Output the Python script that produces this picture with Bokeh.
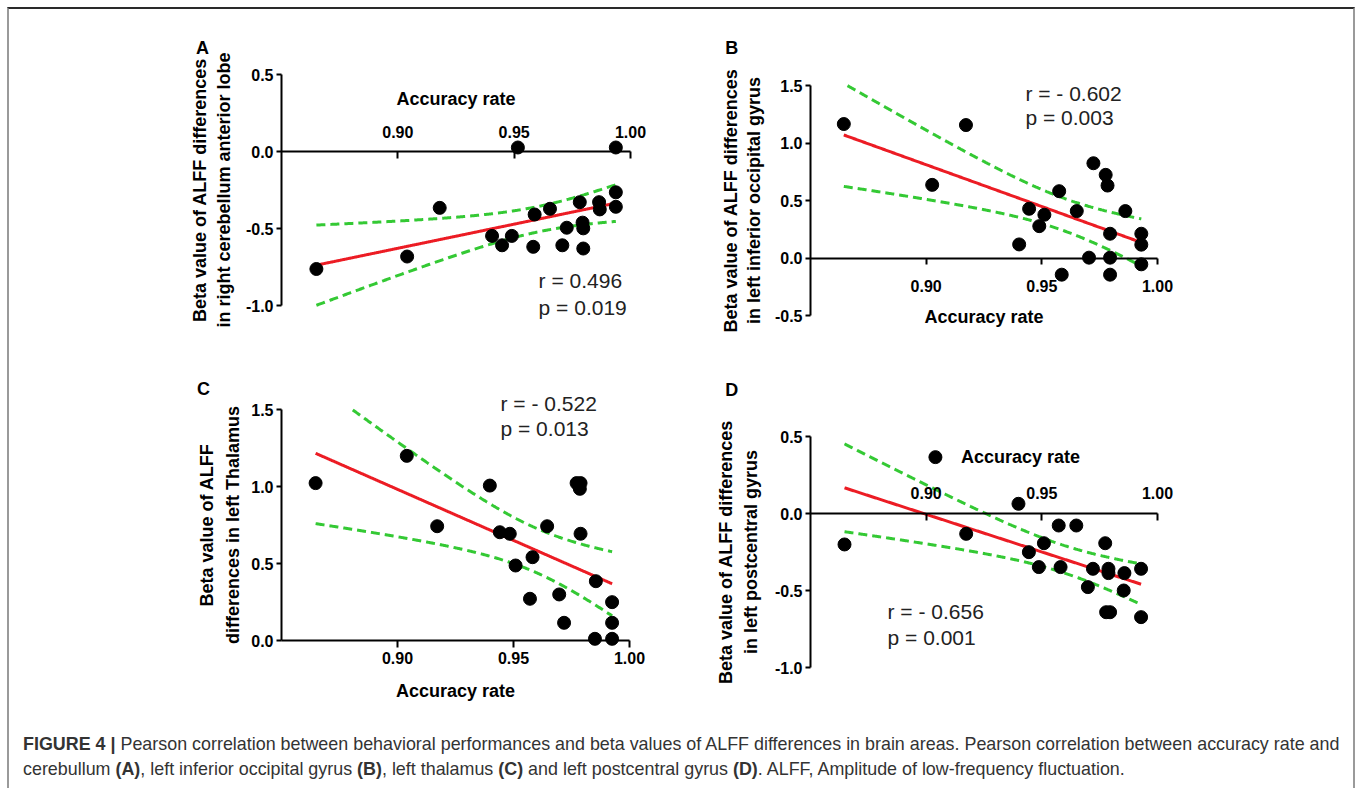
import numpy as np
from bokeh.embed import file_html
from bokeh.layouts import column, row
from bokeh.models import Div, FixedTicker, Label, LinearAxis, NumeralTickFormatter, Range1d
from bokeh.plotting import figure
from bokeh.resources import INLINE

FONT = "Liberation Sans"
T_CRIT = 2.093  # two-sided 95 % Student t, df = 19

# ---- accuracy rate (x) and beta value of ALFF difference (y), one entry per subject ----
acc_a = [0.865, 0.904, 0.918, 0.9405, 0.9448, 0.949, 0.9516, 0.9588, 0.9582, 0.9654, 0.9707,
         0.9726, 0.9782, 0.9794, 0.9797, 0.9797, 0.9865, 0.9868, 0.9937, 0.9937, 0.9937]
beta_a = [-0.763, -0.682, -0.366, -0.548, -0.609, -0.548, 0.026, -0.409, -0.619, -0.372, -0.609,
          -0.495, -0.329, -0.462, -0.499, -0.630, -0.329, -0.376, 0.026, -0.265, -0.359]

acc_b = [0.8644, 0.9026, 0.9172, 0.9402, 0.9445, 0.9489, 0.9511, 0.9575, 0.9586, 0.9651, 0.9704,
         0.9723, 0.9776, 0.9784, 0.9795, 0.9795, 0.9795, 0.9861, 0.9930, 0.9930, 0.9930]
beta_b = [1.165, 0.636, 1.156, 0.118, 0.428, 0.277, 0.376, 0.581, -0.145, 0.408, 0.003,
          0.824, 0.723, 0.630, 0.211, 0.003, -0.145, 0.408, 0.211, 0.116, -0.055]

acc_c = [0.8647, 0.9040, 0.9171, 0.9398, 0.9441, 0.9484, 0.9509, 0.9582, 0.9571, 0.9645, 0.9697,
         0.9718, 0.9772, 0.9789, 0.9786, 0.9789, 0.9855, 0.9851, 0.9925, 0.9925, 0.9925]
beta_c = [1.022, 1.199, 0.742, 1.006, 0.703, 0.693, 0.487, 0.541, 0.271, 0.742, 0.299,
          0.115, 1.022, 1.022, 0.985, 0.693, 0.385, 0.011, 0.249, 0.115, 0.011]

acc_d = [0.8647, 0.904, 0.9173, 0.9399, 0.9444, 0.9487, 0.9509, 0.9573, 0.9581, 0.9649, 0.9699,
         0.9721, 0.9774, 0.9788, 0.9788, 0.9778, 0.9795, 0.9857, 0.9854, 0.9929, 0.9929]
beta_d = [-0.201, 0.366, -0.132, 0.063, -0.251, -0.348, -0.193, -0.078, -0.348, -0.078, -0.478,
          -0.359, -0.193, -0.359, -0.387, -0.641, -0.641, -0.387, -0.5, -0.359, -0.673]

# ---- axis ticks and texts ----
x_ticks = [0.90, 0.95, 1.00]
x_extent = (0.85, 1.00)
y_ticks_a = [-1.0, -0.5, 0.0, 0.5]
y_ticks_b = [-0.5, 0.0, 0.5, 1.0, 1.5]
y_ticks_c = [0.0, 0.5, 1.0, 1.5]
y_ticks_d = [-1.0, -0.5, 0.0, 0.5]

x_title = "Accuracy rate"
y_title_a = "Beta value of ALFF differences\nin right cerebellum anterior lobe"
y_title_b = "Beta value of ALFF differences\nin left inferior occipital gyrus"
y_title_c = "Beta value of ALFF\ndifferences in left Thalamus"
y_title_d = "Beta value of ALFF differences\nin left postcentral gyrus"

stats_a = ["r = 0.496", "p = 0.019"]
stats_b = ["r = - 0.602", "p = 0.003"]
stats_c = ["r = - 0.522", "p = 0.013"]
stats_d = ["r = - 0.656", "p = 0.001"]

RED = "#ec1c24"
GREEN = "#34c934"


def regression_band(acc, beta, y_lo, y_hi, n_pts=400):
    """Least-squares line with its 95 % confidence band over the observed x span,
    cut where it leaves the y axis extent."""
    x = np.asarray(acc, dtype=float)
    y = np.asarray(beta, dtype=float)
    n = x.size
    slope, intercept = np.polyfit(x, y, 1)
    xs = np.linspace(x.min(), x.max(), n_pts)
    fit = intercept + slope * xs
    resid = y - (intercept + slope * x)
    s = np.sqrt(np.sum(resid ** 2) / (n - 2))
    sxx = np.sum((x - x.mean()) ** 2)
    half = T_CRIT * s * np.sqrt(1.0 / n + (xs - x.mean()) ** 2 / sxx)

    def inside(v):
        return np.where((v >= y_lo) & (v <= y_hi), v, np.nan)

    return xs, inside(fit), inside(fit + half), inside(fit - half)


def style_axis(ax, tick_out, tick_in, label_standoff, title_standoff, line_height=1.25):
    ax.axis_line_color = "black"
    ax.axis_line_width = 2
    ax.major_tick_line_color = "black"
    ax.major_tick_line_width = 2
    ax.major_tick_out = tick_out
    ax.major_tick_in = tick_in
    ax.minor_tick_line_color = None
    ax.major_label_text_font = FONT
    ax.major_label_text_font_style = "bold"
    ax.major_label_text_font_size = "16px"
    ax.major_label_text_color = "black"
    ax.major_label_standoff = label_standoff
    ax.axis_label_text_font = FONT
    ax.axis_label_text_font_style = "bold"
    ax.axis_label_text_font_size = "18px"
    ax.axis_label_text_color = "black"
    ax.axis_label_text_line_height = line_height
    ax.axis_label_standoff = title_standoff


def panel(acc, beta, y_ticks, y_title, stats, letter, geom, xax, yax, stat_xy, letter_xy,
          show_x_title=True):
    # the plotting frame fills the whole figure; the ranges are chosen so that the
    # axis extents land on the requested pixel columns / rows
    w, h = geom["size"]
    x0, x1 = geom["x_px"]          # pixel columns of x = 0.85 and x = 1.00
    yt, yb = geom["y_px"]          # pixel rows of the top and bottom y ticks
    y_lo, y_hi = y_ticks[0], y_ticks[-1]
    xpp = (x_extent[1] - x_extent[0]) / (x1 - x0)
    ypp = (y_hi - y_lo) / (yb - yt)

    p = figure(width=w, height=h, title=None,
               x_range=Range1d(x_extent[0] - x0 * xpp, x_extent[1] + (w - x1) * xpp),
               y_range=Range1d(y_lo - (h - yb) * ypp, y_hi + yt * ypp),
               x_axis_type=None, y_axis_type=None,
               output_backend="svg", toolbar_location=None, min_border=0,
               outline_line_color=None,
               background_fill_color="white", border_fill_color="white")

    xaxis = LinearAxis(fixed_location=0.0, bounds=x_extent,
                       ticker=FixedTicker(ticks=x_ticks, minor_ticks=[]),
                       formatter=NumeralTickFormatter(format="0.00"),
                       axis_label=x_title if show_x_title else None)
    style_axis(xaxis, *xax["ticks"], xax["label_standoff"], xax["title_standoff"])
    p.add_layout(xaxis, xax["side"])

    yaxis = LinearAxis(fixed_location=x_extent[0], bounds=(y_lo, y_hi),
                       ticker=FixedTicker(ticks=y_ticks, minor_ticks=[]),
                       formatter=NumeralTickFormatter(format="0.0"),
                       axis_label=y_title)
    style_axis(yaxis, 5, 0, yax["label_standoff"], yax["title_standoff"], yax["line_height"])
    p.add_layout(yaxis, "left")

    xs, fit, upper, lower = regression_band(acc, beta, y_lo, y_hi)
    for band in (upper, lower):
        p.line(xs, band, line_color=GREEN, line_width=3, line_dash="9 5")
    p.line(xs, fit, line_color=RED, line_width=3)
    p.scatter(acc, beta, size=13, color="black")

    sx, sy, step = stat_xy
    for i, txt in enumerate(stats):
        p.add_layout(Label(x=sx, y=sy - i * step, text=txt, text_font=FONT,
                           text_font_size="21px", text_color="#222222",
                           text_baseline="middle", text_align="left"))
    p.add_layout(Label(x=letter_xy[0], y=letter_xy[1], text=letter, text_font=FONT,
                       text_font_size="18px", text_font_style="bold", text_color="black",
                       text_baseline="middle", text_align="center"))
    return p


fig_a = panel(acc_a, beta_a, y_ticks_a, y_title_a, stats_a, "A",
              dict(size=(671, 336), x_px=(272, 621), y_px=(65, 296)),
              dict(side="above", ticks=(0, 7), label_standoff=14, title_standoff=14),
              dict(label_standoff=3, title_standoff=9, line_height=1.2),
              (0.9605, -0.838, 0.175), (0.816, 0.675))

fig_b = panel(acc_b, beta_b, y_ticks_b, y_title_b, stats_b, "B",
              dict(size=(673, 336), x_px=(130, 477), y_px=(76, 306)),
              dict(side="below", ticks=(6, 0), label_standoff=16, title_standoff=11),
              dict(label_standoff=3, title_standoff=8, line_height=1.15),
              (0.9429, 1.430, 0.208), (0.816, 1.830))

fig_c = panel(acc_c, beta_c, y_ticks_c, y_title_c, stats_c, "C",
              dict(size=(671, 365), x_px=(272, 620), y_px=(64, 295)),
              dict(side="below", ticks=(7, 0), label_standoff=4, title_standoff=14),
              dict(label_standoff=3, title_standoff=5, line_height=1.3),
              (0.9444, 1.539, 0.162), (0.8164, 1.630))

fig_d = panel(acc_d, beta_d, y_ticks_d, y_title_d, stats_d, "D",
              dict(size=(673, 365), x_px=(130, 477), y_px=(91, 322)),
              dict(side="above", ticks=(0, 7), label_standoff=15, title_standoff=16),
              dict(label_standoff=3, title_standoff=11, line_height=1.25),
              (0.8833, -0.636, 0.169), (0.816, 0.805), show_x_title=False)
fig_d.add_layout(Label(x=0.9408, y=0.370, text=x_title, text_font=FONT, text_font_size="18px",
                       text_font_style="bold", text_color="black",
                       text_baseline="middle", text_align="center"))

caption_html = (
    '<div style="padding:22px 0 0 14px; font-family:\'Liberation Sans\', Arial, sans-serif; '
    'font-size:17.9px; line-height:25px; color:#333333; white-space:nowrap;">'
    '<b>FIGURE 4 |</b> Pearson correlation between behavioral performances and beta values of '
    'ALFF differences in brain areas. Pearson correlation between accuracy rate and<br>'
    'cerebullum <b>(A)</b>, left inferior occipital gyrus <b>(B)</b>, left thalamus <b>(C)</b> '
    'and left postcentral gyrus <b>(D)</b>. ALFF, Amplitude of low-frequency fluctuation.</div>'
)
caption = Div(text=caption_html, width=1344, height=78, margin=0)

root = column(row(fig_a, fig_b), row(fig_c, fig_d), caption, margin=(7, 0, 0, 7),
              styles={"border-top": "2px solid #2a2a2a",
                      "border-left": "2px solid #9a9a9a",
                      "border-right": "2px solid #9a9a9a"})

open("out.html", "w").write(file_html(root, INLINE))
